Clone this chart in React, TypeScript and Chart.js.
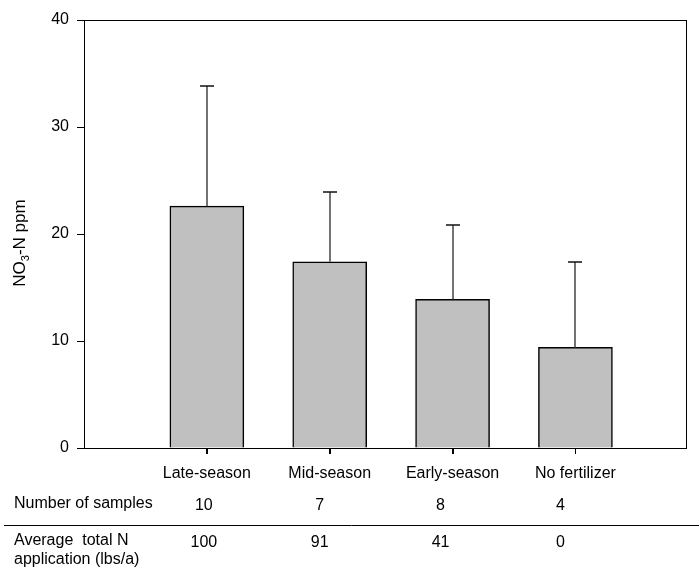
import React, { useEffect, useRef } from "react";
import { Chart, registerables } from "chart.js";

Chart.register(...registerables);

const categories = ["Late-season", "Mid-season", "Early-season", "No fertilizer"];
const means = [22.6, 17.4, 13.9, 9.4];
const errorsUp = [11.2, 6.5, 6.9, 8.0];
const sampleCounts = ["10", "7", "8", "4"];
const avgTotalN = ["100", "91", "41", "0"];
const yTicks = [0, 10, 20, 30, 40];

const FONT = "Liberation Sans, Arial, sans-serif";

export default function App() {
  const ref = useRef<HTMLCanvasElement>(null);
  useEffect(() => {
    const canvas = ref.current!;
    const framePlugin = {
      id: "frame",
      afterDatasetsDraw(chart: any) {
        const { ctx, chartArea: a, scales } = chart;
        const x = scales.x, y = scales.y;
        ctx.save();
        ctx.lineWidth = 1.5;
        means.forEach((m, i) => {
          const px = Math.round(x.getPixelForValue(i + 1));
          const y0 = y.getPixelForValue(m);
          const y1 = Math.round(y.getPixelForValue(m + errorsUp[i]));
          ctx.strokeStyle = "#444";
          ctx.beginPath();
          ctx.moveTo(px, y0);
          ctx.lineTo(px, y1);
          ctx.stroke();
          ctx.strokeStyle = "#111";
          ctx.beginPath();
          ctx.moveTo(px - 7, y1);
          ctx.lineTo(px + 7, y1);
          ctx.stroke();
          // x tick mark
          ctx.strokeStyle = "#000";
          ctx.lineWidth = 1;
          ctx.beginPath();
          ctx.moveTo(px + 0.5, a.bottom);
          ctx.lineTo(px + 0.5, a.bottom + 6);
          ctx.stroke();
          ctx.lineWidth = 1.5;
        });
        ctx.strokeStyle = "#000";
        ctx.lineWidth = 1;
        ctx.strokeRect(a.left + 0.5, a.top + 0.5, a.right - a.left, a.bottom - a.top);
        ctx.restore();
      },
      afterDraw(chart: any) {
        const { ctx, scales } = chart;
        const x = scales.x;
        ctx.save();
        ctx.fillStyle = "#000";
        ctx.font = `16px ${FONT}`;
        ctx.textBaseline = "middle";
        ctx.textAlign = "left";
        ctx.fillText("Number of samples", 14, 504);
        ctx.fillText("Average  total N", 14, 541);
        ctx.fillText("application (lbs/a)", 14, 560);
        const offs = [-3, -10, -12, -15];
        ctx.textAlign = "center";
        sampleCounts.forEach((s, i) => {
          ctx.fillText(s, x.getPixelForValue(i + 1) + offs[i], 506);
        });
        avgTotalN.forEach((s, i) => {
          ctx.fillText(s, x.getPixelForValue(i + 1) + offs[i], 543);
        });
        ctx.strokeStyle = "#000";
        ctx.lineWidth = 1;
        ctx.beginPath();
        ctx.moveTo(4, 525.5);
        ctx.lineTo(699, 525.5);
        ctx.stroke();
        // y title with subscript
        ctx.translate(25, 243);
        ctx.rotate(-Math.PI / 2);
        const p1 = "NO", p3 = "-N ppm";
        ctx.font = `17px ${FONT}`;
        const w1 = ctx.measureText(p1).width;
        ctx.font = `11px ${FONT}`;
        const w2 = ctx.measureText("3").width;
        ctx.font = `17px ${FONT}`;
        const w3 = ctx.measureText(p3).width;
        let sx = -(w1 + w2 + w3) / 2;
        ctx.textAlign = "left";
        ctx.textBaseline = "alphabetic";
        ctx.fillText(p1, sx, 0);
        sx += w1;
        ctx.font = `11px ${FONT}`;
        ctx.fillText("3", sx, 4);
        sx += w2;
        ctx.font = `17px ${FONT}`;
        ctx.fillText(p3, sx, 0);
        ctx.restore();
      },
    };

    const chart = new Chart(canvas, {
      type: "bar",
      data: {
        datasets: [
          {
            data: means.map((v, i) => ({ x: i + 1, y: v })),
            backgroundColor: "#c0c0c0",
            borderColor: "#000",
            borderWidth: 1.5,
            barThickness: 74,
          },
        ],
      },
      options: {
        responsive: false,
        animation: false,
        layout: { padding: { top: 20, right: 13, left: 0, bottom: 0 } },
        plugins: { legend: { display: false }, tooltip: { enabled: false } },
        scales: {
          x: {
            type: "linear",
            offset: false,
            min: 0,
            max: 4.9,
            afterBuildTicks: (s: any) => {
              s.ticks = [1, 2, 3, 4].map((v) => ({ value: v }));
            },
            afterFit: (s: any) => {
              s.height = 124;
            },
            ticks: {
              autoSkip: false,
              maxRotation: 0,
              color: "#000",
              font: { family: FONT, size: 16 },
              padding: 10,
              callback: (v: any) => categories[Number(v) - 1] ?? "",
            },
            grid: { drawOnChartArea: false, offset: false, tickLength: 6, color: "#000" },
            border: { color: "#000" },
          },
          y: {
            min: 0,
            max: 40,
            afterBuildTicks: (s: any) => {
              s.ticks = yTicks.map((v) => ({ value: v }));
            },
            afterFit: (s: any) => {
              s.width = 84;
            },
            ticks: {
              color: "#000",
              font: { family: FONT, size: 16 },
              padding: 8,
            },
            grid: { drawOnChartArea: false, tickLength: 7, color: "#000" },
            border: { color: "#000" },
          },
        },
      },
      plugins: [framePlugin],
    } as any);
    return () => chart.destroy();
  }, []);
  return (
    <div style={{ position: "absolute", left: 0, top: 0, width: 699, height: 572, background: "#fff" }}>
      <canvas ref={ref} width={699} height={572} />
    </div>
  );
}
